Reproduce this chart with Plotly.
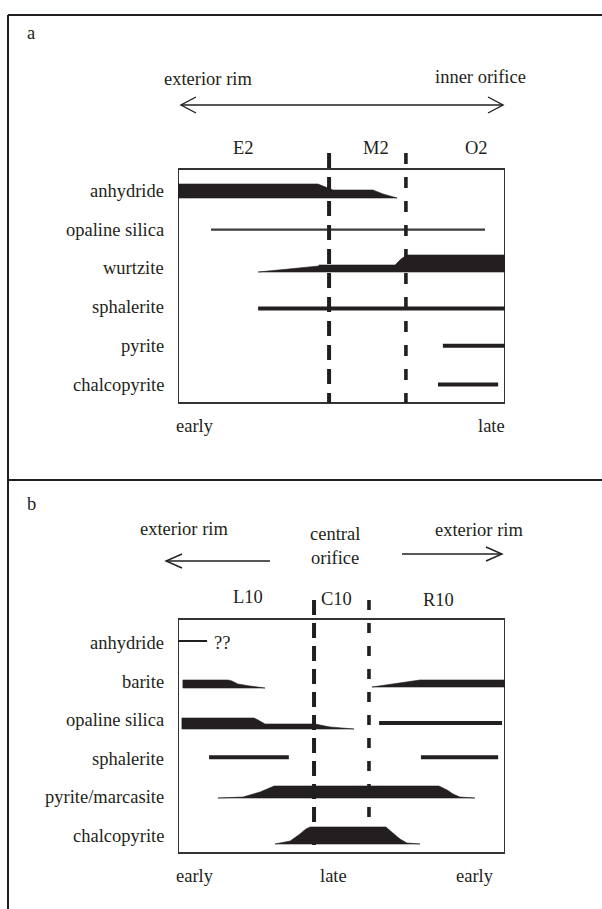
import plotly.graph_objects as go

W, H = 602, 909

# ------------------------------------------------------------------ data
# Panel a : chimney a, exterior rim -> inner orifice
minerals_a = ["anhydride", "opaline silica", "wurtzite", "sphalerite", "pyrite", "chalcopyrite"]
zones_a = ["E2", "M2", "O2"]
zone_bounds_a = [46.2, 69.7]          # relative paragenetic time (0 = early, 100 = late)
time_labels_a = ["early", "late"]
direction_a = ["exterior rim", "inner orifice"]

# banded occurrences: relative time vs relative abundance
anhydride_a_t = [0, 42.8, 47.4, 59.6, 62.7, 67.0]
anhydride_a_v = [14, 14, 8, 8, 4, 0]
wurtzite_a_t = [24.5, 43.1, 43.1, 66.4, 68.2, 70.0, 100.6]
wurtzite_a_v = [0, 6, 7, 7, 13, 17, 17]
# simple occurrences: (start, end)
opaline_a_range = [10.1, 93.9]
sphalerite_a_range = [24.5, 100.0]
pyrite_a_range = [81.0, 100.0]
chalcopyrite_a_range = [79.5, 97.9]

# Panel b : chimney b, exterior rim -> central orifice -> exterior rim
minerals_b = ["anhydride", "barite", "opaline silica", "sphalerite", "pyrite/marcasite", "chalcopyrite"]
zones_b = ["L10", "C10", "R10"]
zone_bounds_b = [41.6, 58.4]
time_labels_b = ["early", "late", "early"]
direction_b = ["exterior rim", "central<br>orifice", "exterior rim"]

anhydride_b_range = [0.0, 8.9]
barite_b_left_t = [1.5, 15.3, 16.5, 18.3, 22.0, 26.6]
barite_b_left_v = [8, 8, 7, 4, 2, 0]
barite_b_right_t = [59.3, 74.0, 100.0]
barite_b_right_v = [0, 7, 7]
opaline_b_left_t = [1.2, 23.2, 24.5, 26.6, 41.9, 46.5, 53.8]
opaline_b_left_v = [11, 11, 9, 5, 5, 2, 0]
opaline_b_right_range = [61.5, 99.1]
sphalerite_b_ranges = [[9.5, 33.9], [74.3, 97.9]]
pyrite_b_t = [12.2, 19.9, 25.1, 27.5, 29.4, 79.8, 82.3, 84.1, 86.2, 90.8]
pyrite_b_v = [0, 1, 6, 9, 12, 12, 8, 4, 1, 0]
chalco_b_t = [29.7, 34.3, 37.3, 39.1, 40.4, 63.6, 65.7, 67.9, 70.0, 74.0]
chalco_b_v = [0, 3, 10, 15, 17, 17, 11, 5, 1, 0]

# ------------------------------------------------------------------ style / layout constants
INK = "#231f20"
FONT = dict(family="Liberation Serif, Times New Roman, serif", size=18.5, color=INK)
BOX_L, BOX_R = 178, 505

ROW0_A, ROWPX_A = 191.0, 38.7
ROW0_B, ROWPX_B = 643.0, 38.6


def row_a(py):
    return (py - ROW0_A) / ROWPX_A


def row_b(py):
    return (py - ROW0_B) / ROWPX_B


def px(x):
    return x / W


def py(y):
    return 1 - y / H


fig = go.Figure()


def band(t, v, row, base_off, rowpx, ax):
    k = 1.0 / rowpx
    base = row + base_off
    xs = list(t) + list(reversed(t)) + [t[0]]
    ys = [base - a * k for a in v] + [base] * len(t) + [base - v[0] * k]
    fig.add_trace(go.Scatter(x=xs, y=ys, mode="lines", fill="toself", fillcolor=INK,
                             line=dict(width=0.6, color=INK), hoverinfo="skip",
                             showlegend=False, xaxis="x" + ax, yaxis="y" + ax))


def seg(rng, row, width, ax, color=INK):
    fig.add_trace(go.Scatter(x=[rng[0], rng[1]], y=[row, row], mode="lines",
                             line=dict(width=width, color=color), hoverinfo="skip",
                             showlegend=False, xaxis="x" + ax, yaxis="y" + ax))


def boundary(b, top, bottom, width, dash, ax):
    fig.add_trace(go.Scatter(x=[b, b], y=[top, bottom], mode="lines",
                             line=dict(width=width, color=INK, dash=dash), hoverinfo="skip",
                             showlegend=False, xaxis="x" + ax, yaxis="y" + ax))


# ---------------- panel a marks
band(anhydride_a_t, anhydride_a_v, 0, 7 / ROWPX_A, ROWPX_A, "")
seg(opaline_a_range, 1, 2.2, "", "#3c3c3c")
band(wurtzite_a_t, wurtzite_a_v, 2, 3.6 / ROWPX_A, ROWPX_A, "")
seg(sphalerite_a_range, 3 + 1.5 / ROWPX_A, 4, "")
seg(pyrite_a_range, 4, 4, "")
seg(chalcopyrite_a_range, 5, 4, "")
boundary(zone_bounds_a[0], row_a(153), row_a(403), 4, "15px,9px", "")
boundary(zone_bounds_a[1], row_a(153), row_a(403), 3.6, "11px,13px", "")

# ---------------- panel b marks
seg(anhydride_b_range, 0 - 2 / ROWPX_B, 2, "2")
band(barite_b_left_t, barite_b_left_v, 1, 6.4 / ROWPX_B, ROWPX_B, "2")
band(barite_b_right_t, barite_b_right_v, 1, 5.4 / ROWPX_B, ROWPX_B, "2")
band(opaline_b_left_t, opaline_b_left_v, 2, 8.8 / ROWPX_B, ROWPX_B, "2")
seg(opaline_b_right_range, 2 + 2.8 / ROWPX_B, 4, "2")
for r in sphalerite_b_ranges:
    seg(r, 3 - 1.5 / ROWPX_B, 4, "2")
band(pyrite_b_t, pyrite_b_v, 4, 0.6 / ROWPX_B, ROWPX_B, "2")
band(chalco_b_t, chalco_b_v, 5, 8.0 / ROWPX_B, ROWPX_B, "2")
boundary(zone_bounds_b[0], row_b(600), row_b(852), 4, "15px,8px", "2")
boundary(zone_bounds_b[1], row_b(600), row_b(852), 3.6, "10px,13px", "2")

# ---------------- axes
DOM_A = (140, 415)
DOM_B = (590, 862)
fig.update_layout(
    width=W, height=H, margin=dict(l=0, r=0, t=0, b=0),
    paper_bgcolor="white", plot_bgcolor="white",
    xaxis=dict(domain=[px(BOX_L), px(BOX_R)], range=[0, 100], visible=False, fixedrange=True),
    yaxis=dict(domain=[py(DOM_A[1]), py(DOM_A[0])], range=[row_a(DOM_A[1]), row_a(DOM_A[0])],
               visible=False, fixedrange=True),
    xaxis2=dict(domain=[px(BOX_L), px(BOX_R)], range=[0, 100], visible=False, fixedrange=True,
                anchor="y2"),
    yaxis2=dict(domain=[py(DOM_B[1]), py(DOM_B[0])], range=[row_b(DOM_B[1]), row_b(DOM_B[0])],
                visible=False, fixedrange=True, anchor="x2"),
)

shapes = []
# plot frames
shapes.append(dict(type="rect", xref="x", yref="y", x0=0, x1=100, y0=row_a(169), y1=row_a(403),
                   line=dict(color="#333333", width=2), layer="below"))
shapes.append(dict(type="rect", xref="x2", yref="y2", x0=0, x1=100, y0=row_b(619), y1=row_b(853),
                   line=dict(color="#333333", width=2), layer="below"))
# outer figure border and panel divider
for (x0, y0, x1, y1) in [(8, 15, 602, 15), (8, 15, 8, 909), (8, 480, 602, 480)]:
    shapes.append(dict(type="line", xref="paper", yref="paper", x0=px(x0), y0=py(y0),
                       x1=px(x1), y1=py(y1), line=dict(color=INK, width=2)))


def path(points):
    return "M" + " L".join(f"{px(a)},{py(b)}" for a, b in points)


def arrow_shapes(x_tail, x_tip, y, head=15, half=8):
    d = 1 if x_tip > x_tail else -1
    out = [dict(type="path", xref="paper", yref="paper",
                path=path([(x_tail, y), (x_tip, y)]), line=dict(color=INK, width=1.4)),
           dict(type="path", xref="paper", yref="paper",
                path=path([(x_tip - d * head, y - half), (x_tip, y), (x_tip - d * head, y + half)]),
                line=dict(color=INK, width=1.4))]
    return out


# panel a double arrow
shapes += arrow_shapes(342, 181, 105)
shapes += arrow_shapes(342, 503, 105)
# panel b arrows
shapes += arrow_shapes(270, 166, 561, head=16, half=7)
shapes += arrow_shapes(402, 502, 554, head=16, half=7)
fig.update_layout(shapes=shapes)

ann = []


def text(s, x, y, xanchor="center", **kw):
    ann.append(dict(text=s, x=px(x), y=py(y), xref="paper", yref="paper", showarrow=False,
                    xanchor=xanchor, yanchor="middle", font=FONT, **kw))


# panel a texts
text("a", 25, 33, "left")
text(direction_a[0], 208, 79)
text(direction_a[1], 480, 77)
for z, xx in zip(zones_a, [243, 376, 476]):
    text(z, xx, 148)
for i, m in enumerate(minerals_a):
    ann.append(dict(text=m, x=px(166), y=i, xref="paper", yref="y", showarrow=False,
                    xanchor="right", yanchor="middle", font=FONT))
for lab, xx in zip(time_labels_a, [195, 491]):
    text(lab, xx, 426)

# panel b texts
text("b", 25, 504, "left")
text(direction_b[0], 184, 529)
ann.append(dict(text=direction_b[1], x=px(335), y=py(546), xref="paper", yref="paper",
                showarrow=False, xanchor="center", yanchor="middle", font=FONT))
text(direction_b[2], 479, 530)
for z, xx, yy in zip(zones_b, [248, 337, 439], [597, 599, 600]):
    text(z, xx, yy)
for i, m in enumerate(minerals_b):
    ann.append(dict(text=m, x=px(166), y=i, xref="paper", yref="y2", showarrow=False,
                    xanchor="right", yanchor="middle", font=FONT))
text("??", 222, 643)
for lab, xx in zip(time_labels_b, [195, 333, 475]):
    text(lab, xx, 876)

fig.update_layout(annotations=ann)
fig.write_html("out.html")
